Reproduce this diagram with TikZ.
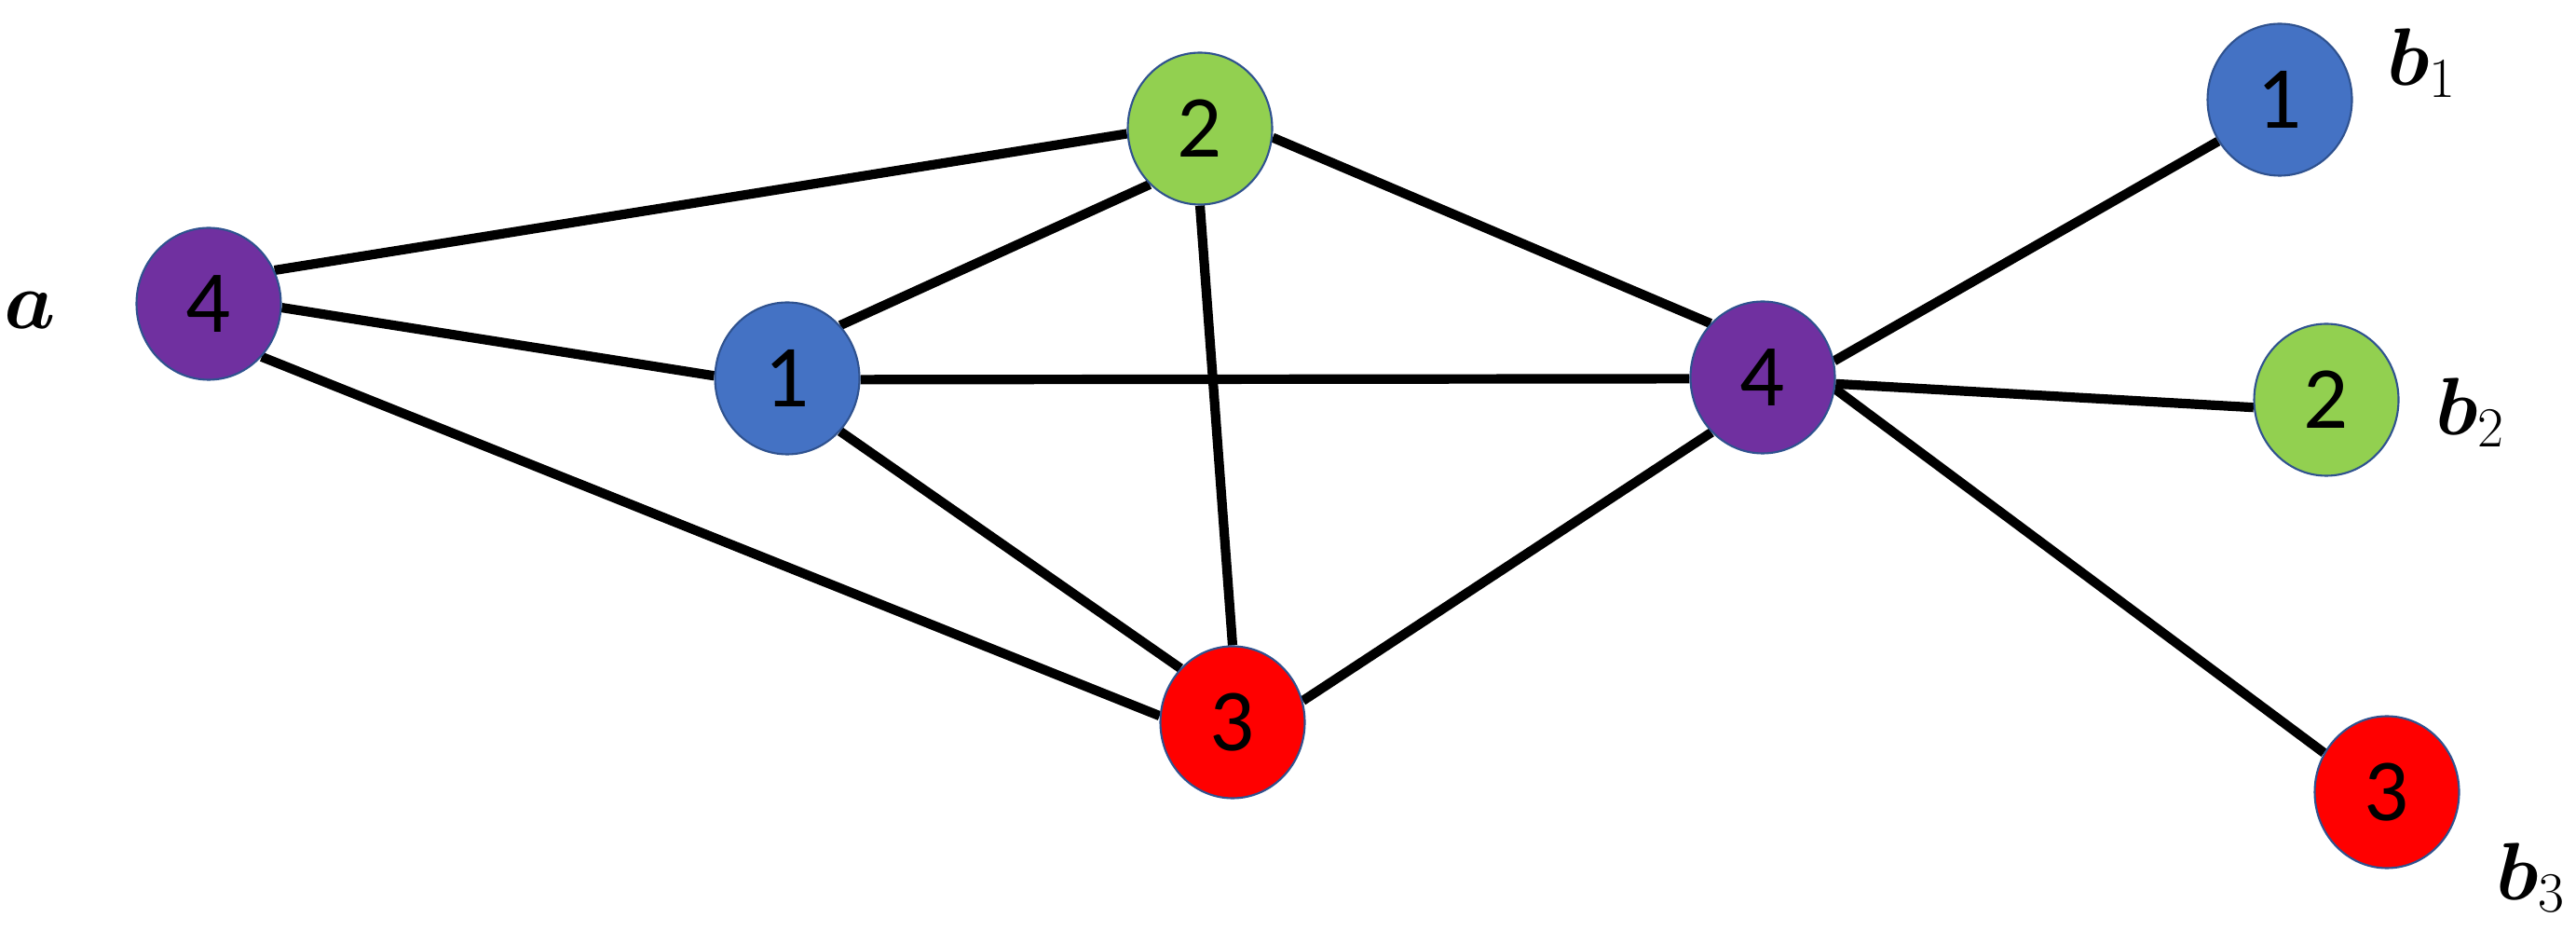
\documentclass[tikz,border=0pt]{standalone}
\usepackage{fontspec}
\usepackage{amsmath}
\newfontfamily\numfont{Carlito}
\usetikzlibrary{shapes.geometric}
\pgfdeclarelayer{bg}
\pgfsetlayers{bg,main}
\definecolor{cpurple}{HTML}{7030A0}
\definecolor{cblue}{HTML}{4472C4}
\definecolor{cgreen}{HTML}{92D050}
\definecolor{cred}{HTML}{FF0000}
\definecolor{cline}{HTML}{2F528F}
\tikzset{
  vtx/.style={ellipse, minimum width=1.55cm, minimum height=1.63cm, inner sep=0pt,
    draw=cline, line width=0.6pt, font=\numfont\fontsize{27}{31}\selectfont},
  edge/.style={line width=2.9pt, black},
  lbl/.style={inner sep=0pt, font=\fontsize{23}{27}\selectfont}
}
\begin{document}
\begin{tikzpicture}
\useasboundingbox (0,0) rectangle (27.65,-10.14);
\node[vtx, fill=cpurple] (a4) at (2.24,-3.26) {4};
\node[vtx, fill=cblue]   (n1) at (8.45,-4.06) {1};
\node[vtx, fill=cgreen]  (n2) at (12.88,-1.38) {2};
\node[vtx, fill=cred]    (n3) at (13.23,-7.75) {3};
\node[vtx, fill=cpurple] (n4) at (18.92,-4.05) {4};
\node[vtx, fill=cblue]   (b1) at (24.47,-1.07) {1};
\node[vtx, fill=cgreen]  (b2) at (24.97,-4.29) {2};
\node[vtx, fill=cred]    (b3) at (25.62,-8.50) {3};
\node[lbl] (la)  at (0.32,-3.33) {$\boldsymbol{a}$};
\node[lbl] (lb1) at (26.00,-0.68) {$\boldsymbol{b}_1$};
\node[lbl] (lb2) at (26.52,-4.43) {$\boldsymbol{b}_2$};
\node[lbl] (lb3) at (27.17,-9.42) {$\boldsymbol{b}_3$};
\begin{pgfonlayer}{bg}
\draw[edge] (a4.27) -- (n2.184);
\draw[edge] (a4.-3) -- (n1.178);
\draw[edge] (a4.-45) -- (n3.175);
\draw[edge] (n1.45) -- (n2.228);
\draw[edge] (n1.-1) -- (n4.181);
\draw[edge] (n1.-45) -- (n3.134);
\draw[edge] (n2.270) -- (n3.90);
\draw[edge] (n2.-7) -- (n4.134);
\draw[edge] (n3.17) -- (n4.227);
\draw[edge] (n4.13) -- (b1.214);
\draw[edge] (n4.-5) -- (b2.186);
\draw[edge] (n4.-9) -- (b3.148);
\end{pgfonlayer}
\end{tikzpicture}
\end{document}
